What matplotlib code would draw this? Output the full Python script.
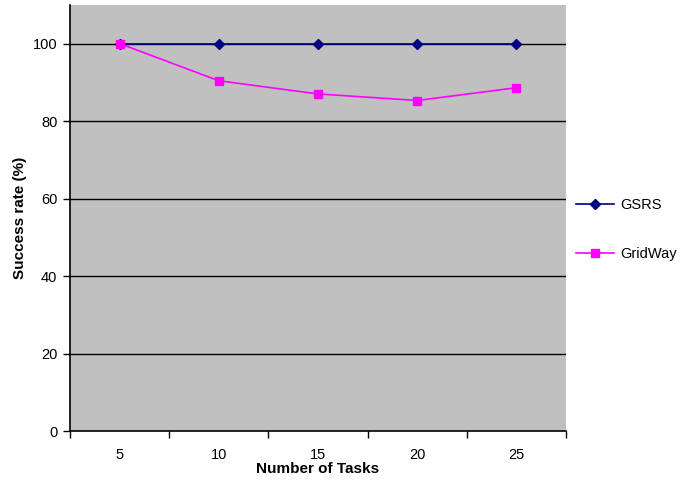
import matplotlib
matplotlib.use("Agg")
import numpy as np
from matplotlib import pyplot as plt

tasks = ["5", "10", "15", "20", "25"]
gsrs = [100, 100, 100, 100, 100]
gridway = [100, 90.4, 87.0, 85.3, 88.6]

plt.rcParams['font.family'] = ['Liberation Sans', 'DejaVu Sans']

fig = plt.figure(figsize=(6.86, 4.8), dpi=100)
ax = fig.add_axes([0.102, 0.102, 0.723, 0.888])
ax.set_facecolor('#c0c0c0')

x = np.arange(len(tasks))
ax.plot(x, gsrs, color='#000080', marker='D', markersize=5, lw=1.2, label='GSRS', zorder=3)
ax.plot(x, gridway, color='#ff00ff', marker='s', markersize=6, lw=1.2, label='GridWay', zorder=4)

ax.set_xlim(-0.5, len(tasks) - 0.5)
ax.set_ylim(0, 110)
ax.set_yticks(range(0, 101, 20))
for yv in range(20, 101, 20):
    ax.axhline(yv, color='black', lw=1, zorder=1)

ax.set_xticks(x)
ax.set_xticklabels(tasks)
ax.set_xticks(np.arange(-0.5, len(tasks), 1), minor=True)
ax.tick_params(axis='x', which='major', length=0, pad=12, labelsize=10.5)
ax.tick_params(axis='x', which='minor', length=5, width=1, direction='out')
ax.tick_params(axis='y', length=5, width=1, direction='out', labelsize=10.5, pad=4)

for side in ['top', 'right']:
    ax.spines[side].set_visible(False)
ax.spines['left'].set_linewidth(1.2)
ax.spines['bottom'].set_linewidth(1.2)

ax.set_xlabel('Number of Tasks', fontweight='bold', fontsize=11, labelpad=0)
ax.set_ylabel('Success rate (%)', fontweight='bold', fontsize=11, labelpad=4)

ax.legend(loc='center left', bbox_to_anchor=(1.0, 0.472), frameon=False, fontsize=10.5,
          handlelength=2.6, handletextpad=0.4, labelspacing=2.4, borderaxespad=0.3)

fig.savefig('out.png', dpi=100)
